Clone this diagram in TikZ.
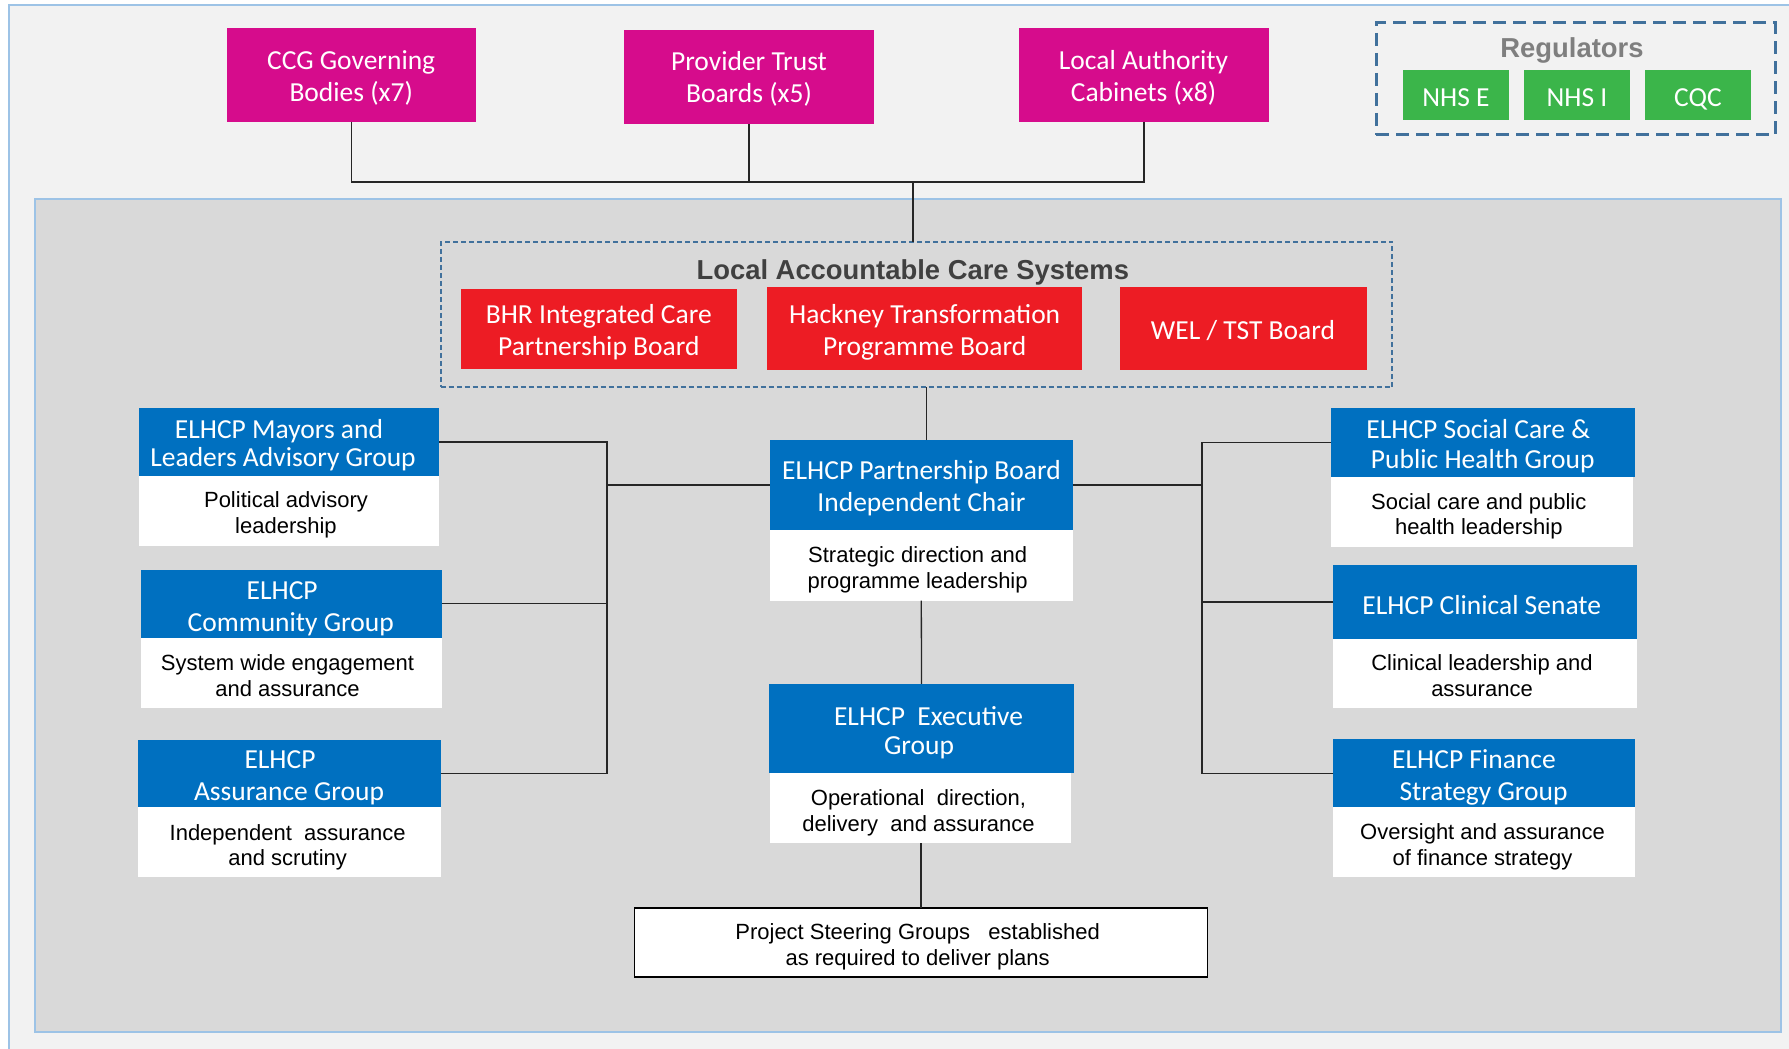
\documentclass[tikz,border=0pt]{standalone}
\usepackage{fontspec}
\setmainfont{Liberation Sans}
\newfontfamily\calfont{Carlito}
\definecolor{mag}{RGB}{214,12,140}
\definecolor{redb}{RGB}{237,28,36}
\definecolor{grn}{RGB}{59,181,74}
\definecolor{blu}{RGB}{0,112,192}
\definecolor{ingrey}{RGB}{217,217,217}
\definecolor{outgrey}{RGB}{242,242,242}
\definecolor{frameblue}{RGB}{157,195,230}
\definecolor{dashblue}{RGB}{65,113,156}
\definecolor{titlegrey}{RGB}{64,64,64}
\definecolor{reggrey}{RGB}{127,127,127}
\begin{document}
\begin{tikzpicture}[x=1pt,y=-1pt,
  base/.style={inner sep=0pt, outer sep=0pt, align=center},
  sz/.style 2 args={minimum width=#1pt, minimum height=#2pt},
  pinkbox/.style={base, fill=mag},
  redbox/.style={base, fill=redb},
  greenbox/.style={base, fill=grn},
  bluebox/.style={base, fill=blu},
  whitebox/.style={base, fill=white},
  hdrtxt/.style={base, yshift=-1.7pt, text=white, font=\calfont\fontsize{27.5}{31.7}\selectfont},
  bodytxt/.style={base, yshift=-1.7pt, text=black, font=\fontsize{22}{25.7}\selectfont},
  link/.style={draw=black!85, line width=1.3pt},
  titletext/.style={base, anchor=base, yshift=-2pt, font=\bfseries\fontsize{27.4}{31}\selectfont},
]
\useasboundingbox (0,0) rectangle (1789,1049);
\fill[white] (0,0) rectangle (1789,1049);
\draw[fill=outgrey, draw=frameblue, line width=1.5pt] (9,5) rectangle (1800,1060);
\draw[fill=ingrey, draw=frameblue, line width=1.5pt] (35,199) rectangle (1781,1032);

% top boards
\node[pinkbox, sz={248.7}{93.7}] (ccg) at (351.3,74.8) {};
\node[hdrtxt] (ccgT) at (351.2,77.2) {\strut CCG Governing\\\strut Bodies (x7)};
\node[pinkbox, sz={250}{94}] (pt) at (749,77) {};
\node[hdrtxt] (ptT) at (749,78.5) {\strut Provider Trust\\\strut Boards (x5)};
\node[pinkbox, sz={250}{93.7}] (la) at (1144,74.8) {};
\node[hdrtxt] (laT) at (1143.5,77.2) {\strut Local Authority\\\strut Cabinets (x8)};

% regulators
\node[base, sz={399}{112}, draw=dashblue, line width=3pt, dash pattern=on 13pt off 7pt] (reg) at (1575.7,78.8) {};
\node[titletext, text=reggrey] (regT) at (1572,56) {Regulators};
\node[greenbox, sz={106.7}{49.7}] (nhse) at (1456,94.8) {};
\node[hdrtxt] (nhseT) at (1456,98) {\strut NHS E};
\node[greenbox, sz={106}{49.7}] (nhsi) at (1577,94.8) {};
\node[hdrtxt] (nhsiT) at (1577,98) {\strut NHS I};
\node[greenbox, sz={106}{49.7}] (cqc) at (1698,94.8) {};
\node[hdrtxt] (cqcT) at (1698,98) {\strut CQC};

% local accountable care systems
\node[base, sz={951.6}{145.6}, draw=dashblue, line width=2pt, dash pattern=on 5pt off 3pt] (lacs) at (916.5,314.5) {};
\node[titletext, text=titlegrey] (lacsT) at (912.8,277.7) {Local Accountable Care Systems};
\node[redbox, sz={275.7}{79.4}] (bhr) at (598.8,329) {};
\node[hdrtxt] (bhrT) at (598.8,331.2) {\strut BHR Integrated Care\\\strut Partnership Board};
\node[redbox, sz={314.7}{82.7}] (hack) at (924.7,328.7) {};
\node[hdrtxt] (hackT) at (924.7,331.2) {\strut Hackney Transformation\\\strut Programme Board};
\node[redbox, sz={246.7}{82.7}] (wel) at (1243.3,328.7) {};
\node[hdrtxt] (welT) at (1243,331.4) {\strut WEL / TST Board};

% left column
\node[bluebox, sz={300}{68}] (mayH) at (289,442) {};
\node[hdrtxt, font=\calfont\fontsize{27.5}{27.6}\selectfont] (mayHT) at (283,445) {\strut ELHCP Mayors and\hspace*{8pt}\\\strut Leaders Advisory Group};
\node[whitebox, sz={300}{69.7}, anchor=north] (mayB) at (289,476) {};
\node[bodytxt] (mayBT) at (286,513.7) {\strut Political advisory\\\strut leadership};

\node[bluebox, sz={300.7}{67.7}] (comH) at (291.3,603.8) {};
\node[hdrtxt] (comHT) at (290.7,607.8) {\strut ELHCP\hspace*{17pt}\\\strut Community Group};
\node[whitebox, sz={300.7}{70}, anchor=north] (comB) at (291.3,637.7) {};
\node[bodytxt] (comBT) at (287.5,676.8) {\strut System wide engagement\\\strut and assurance};

\node[bluebox, sz={302.7}{67}] (assH) at (289.3,773.5) {};
\node[hdrtxt] (assHT) at (289,776.2) {\strut ELHCP\hspace*{18pt}\\\strut Assurance Group};
\node[whitebox, sz={302.7}{69.7}, anchor=north] (assB) at (289.3,807) {};
\node[bodytxt] (assBT) at (287.7,846.1) {\strut Independent\ \ assurance\\\strut and scrutiny};

% centre column
\node[bluebox, sz={302.7}{90}] (pbH) at (921.3,485) {};
\node[hdrtxt] (pbHT) at (921.5,487.6) {\strut ELHCP Partnership Board\\\strut Independent Chair};
\node[whitebox, sz={302.7}{70.7}, anchor=north] (pbB) at (921.3,530) {};
\node[bodytxt] (pbBT) at (917.6,569) {\strut Strategic direction and\\\strut programme leadership};

\node[bluebox, sz={305}{88.7}] (exH) at (921.5,728.3) {};
\node[hdrtxt, font=\calfont\fontsize{27.5}{29.3}\selectfont] (exHT) at (919,732.1) {\strut\hspace*{19pt}ELHCP\ \ Executive\\\strut Group};
\node[whitebox, sz={301}{70.6}, anchor=north] (exB) at (920.5,772.7) {};
\node[bodytxt] (exBT) at (918.5,811.8) {\strut Operational\ \ direction,\\\strut delivery\ \ and assurance};

\node[whitebox, sz={573}{69}, draw=black, line width=1.6pt] (proj) at (921,942.2) {};
\node[bodytxt] (projT) at (917.6,945.4) {\strut Project Steering Groups\ \ \ established\\\strut as required to deliver plans};

% right column
\node[bluebox, sz={304}{68.7}] (socH) at (1483,442.7) {};
\node[hdrtxt, font=\calfont\fontsize{27.5}{30}\selectfont] (socHT) at (1482.8,445.7) {\strut ELHCP Social Care \&\hspace*{9pt}\\\strut Public Health Group};
\node[whitebox, sz={301.7}{69.7}, anchor=north] (socB) at (1481.8,477) {};
\node[bodytxt] (socBT) at (1478.8,515.2) {\strut Social care and public\\\strut health leadership};

\node[bluebox, sz={303.4}{74}] (cliH) at (1485,602) {};
\node[hdrtxt] (cliHT) at (1481.8,606) {\strut ELHCP Clinical Senate};
\node[whitebox, sz={303.4}{69.3}, anchor=north] (cliB) at (1485,639) {};
\node[bodytxt] (cliBT) at (1482,677) {\strut Clinical leadership and\\\strut assurance};

\node[bluebox, sz={301.7}{67.7}] (finH) at (1484.2,773.2) {};
\node[hdrtxt] (finHT) at (1483.5,776.2) {\strut ELHCP Finance\hspace*{19pt}\\\strut Strategy Group};
\node[whitebox, sz={301.7}{69.7}, anchor=north] (finB) at (1484.2,807) {};
\node[bodytxt] (finBT) at (1482.5,846) {\strut Oversight and assurance\\\strut of finance strategy};

% connectors
\coordinate (topj) at (913,182);
\draw[link] (ccg.south) |- (topj);
\draw[link] (la.south) |- (topj);
\draw[link] (pt.south) |- (topj);
\draw[link] (topj) -- (topj |- lacs.north);
\draw[link] ([xshift=5.4pt]pbH.north) -- ([xshift=5.4pt]pbH.north |- lacs.south);

\coordinate (lbus) at (607,485);
\draw[link] (pbH.west) -- (lbus);
\draw[link] (mayH.east) -| (lbus);
\draw[link] (comH.east) -| (lbus);
\draw[link] (assH.east) -| (lbus);

\coordinate (rbus) at (1202,485);
\draw[link] (pbH.east) -- (rbus);
\draw[link] (socH.west) -| (rbus);
\draw[link] (cliH.west) -| (rbus);
\draw[link] (finH.west) -| (rbus);

\draw[link] (pbB.south -| pbH.south) -- (exH.north);
\draw[link] (exB.south -| proj.north) -- (proj.north);
\end{tikzpicture}
\end{document}
